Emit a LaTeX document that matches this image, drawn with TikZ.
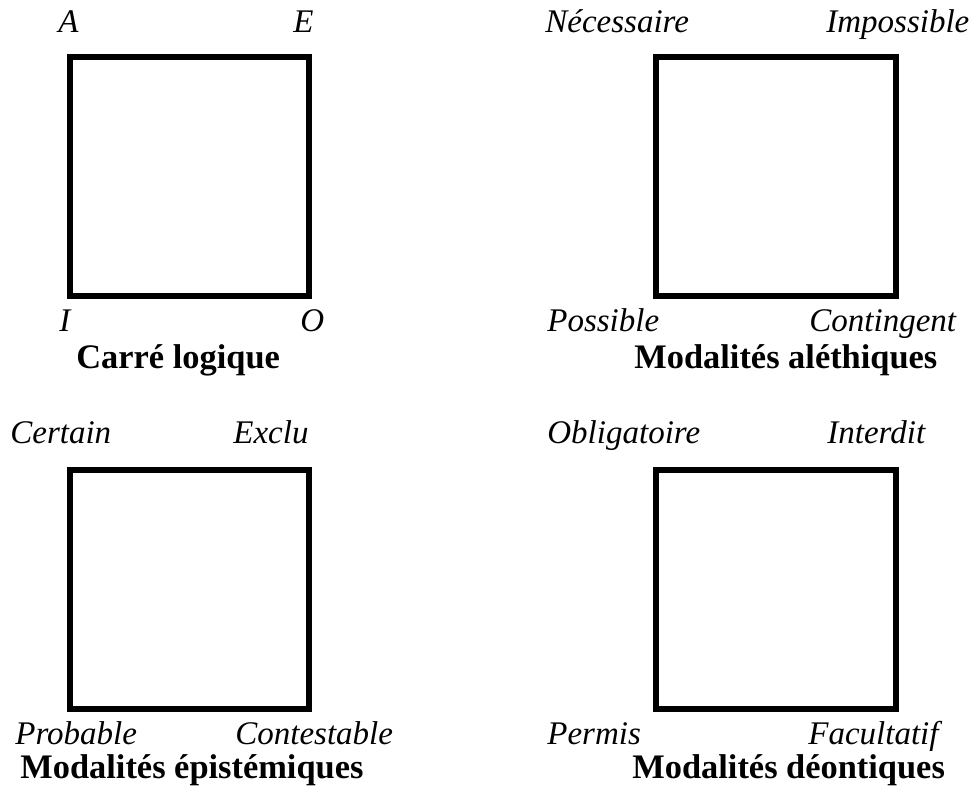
\documentclass[tikz,border=0pt]{standalone}
\usepackage{fontspec}
\setmainfont{Liberation Serif}
\begin{document}
\begin{tikzpicture}[x=0.5pt,y=-0.5pt,
  carre/.style={line width=3pt},
  coin/.style={inner sep=0, anchor=base west, font=\fontsize{16.5}{18}\selectfont\itshape},
  titre/.style={inner sep=0, anchor=base west, font=\fontsize{17.2}{19}\selectfont\bfseries}]
\useasboundingbox (0,0) rectangle (971,786);
% carre logique
\draw[carre] (70,57) rectangle (309,296);
\node[coin] (A) at (58,33) {A};
\node[coin] (E) at (293,33) {E};
\node[coin] (I) at (59,332) {I};
\node[coin] (O) at (300,332) {O};
\node[titre] (t1) at (76,369) {Carré logique};
% modalites alethiques
\draw[carre] (656,57) rectangle (896,296);
\node[coin] (nec) at (545,33) {Nécessaire};
\node[coin] (imp) at (826,33) {Impossible};
\node[coin] (pos) at (547,332) {Possible};
\node[coin] (cont) at (809,332) {Contingent};
\node[titre] (t2) at (634,369) {Modalités aléthiques};
% modalites epistemiques
\draw[carre] (70,470) rectangle (309,709);
\node[coin] (cer) at (10,444) {Certain};
\node[coin] (exc) at (233,444) {Exclu};
\node[coin] (prob) at (15,745) {Probable};
\node[coin] (contest) at (235,745) {Contestable};
\node[titre] (t3) at (20,778) {Modalités épistémiques};
% modalites deontiques
\draw[carre] (656,470) rectangle (896,709);
\node[coin] (obl) at (547,444) {Obligatoire};
\node[coin] (int) at (827,444) {Interdit};
\node[coin] (perm) at (547,745) {Permis};
\node[coin] (fac) at (808,745) {Facultatif};
\node[titre] (t4) at (632,778) {Modalités déontiques};
\end{tikzpicture}
\end{document}
